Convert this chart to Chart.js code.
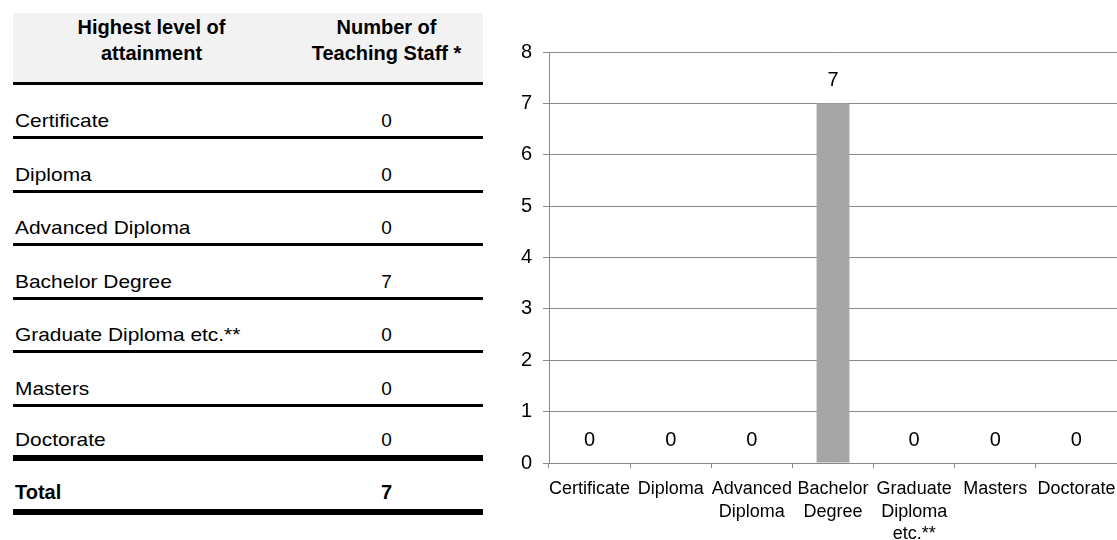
<!DOCTYPE html>
<html>
<head>
<meta charset="utf-8">
<script src="https://cdn.jsdelivr.net/npm/chart.js@4.4.0/dist/chart.umd.min.js"></script>
<style>
  body { margin: 0; width: 1117px; height: 540px; background: #fff; position: relative; overflow: hidden;
         font-family: 'Liberation Sans', Arial, sans-serif; color: #000; }
  .abs { position: absolute; }
  .hdr-bg { left: 13px; top: 13px; width: 470px; height: 69px; background: #f2f2f2; }
  .hdr { top: 14px; font-weight: bold; font-size: 20px; line-height: 26px; text-align: center; }
  .rule { left: 13px; width: 470px; background: #000; }
  .cell { font-size: 19px; line-height: 24px; height: 24px; white-space: nowrap; }
  .stretch { transform: scaleX(1.1); transform-origin: left center; }
  #chart-box { left: 500px; top: 0; width: 617px; height: 540px; }
</style>
</head>
<body>
<div class="abs hdr-bg"></div>
<div class="abs hdr" style="left:13px;width:277px;">Highest level of<br>attainment</div>
<div class="abs hdr" style="left:290px;width:193px;">Number of<br>Teaching Staff *</div>
<div id="chart-box" class="abs"><canvas id="staff-chart" width="617" height="540"></canvas></div>

<script>
// table labels and chart labels (wrapped like the original axis)
const levels = ['Certificate', 'Diploma', 'Advanced Diploma', 'Bachelor Degree',
                'Graduate Diploma etc.**', 'Masters', 'Doctorate'];
const axisLabels = [['Certificate'], ['Diploma'], ['Advanced', 'Diploma'], ['Bachelor', 'Degree'],
                    ['Graduate', 'Diploma', 'etc.**'], ['Masters'], ['Doctorate']];
const staffCounts = [0, 0, 0, 7, 0, 0, 0];
const yTicks = [0, 1, 2, 3, 4, 5, 6, 7, 8];

function addRule(top, h) {
  const d = document.createElement('div');
  d.className = 'abs rule';
  d.style.top = top + 'px';
  d.style.height = h + 'px';
  document.body.appendChild(d);
}

function addRow(label, value, lineTop, bold) {
  const center = lineTop - 15;
  const left = document.createElement('div');
  left.className = 'abs cell stretch';
  left.style.left = '15px';
  left.style.top = (center - 12) + 'px';
  left.textContent = label;
  const right = document.createElement('div');
  right.className = 'abs cell';
  right.style.left = '290px';
  right.style.width = '193px';
  right.style.textAlign = 'center';
  right.style.top = (center - 12) + 'px';
  right.textContent = value;
  if (bold) {
    left.style.fontWeight = 'bold'; right.style.fontWeight = 'bold';
    left.style.fontSize = '20px'; right.style.fontSize = '20px';
    left.classList.remove('stretch');
  }
  document.body.appendChild(left);
  document.body.appendChild(right);
}

function buildTable() {
  addRule(82, 3);
  levels.forEach((lvl, i) => {
    const lineTop = Math.round(136 + 53.5 * i);
    const last = i === levels.length - 1;
    addRow(lvl, staffCounts[i], last ? 455 : lineTop, false);
    addRule(last ? 455 : lineTop, last ? 6 : 3);
  });
  const total = staffCounts.reduce((a, b) => a + b, 0);
  addRow('Total', total, 507, true);
  addRule(509, 6);
}

// draws the value above every bar (no datalabels plugin available offline)
const valueLabels = {
  id: 'valueLabels',
  afterDatasetsDraw(chart) {
    const ctx = chart.ctx;
    const meta = chart.getDatasetMeta(0);
    ctx.save();
    ctx.font = '20px "Liberation Sans", Arial, sans-serif';
    ctx.fillStyle = '#000';
    ctx.textAlign = 'center';
    ctx.textBaseline = 'middle';
    meta.data.forEach((bar, i) => {
      ctx.fillText(String(staffCounts[i]), bar.x, bar.y - 23);
    });
    ctx.restore();
  }
};

function initChart() {
  const gridColor = '#898989';
  new Chart(document.getElementById('staff-chart'), {
    type: 'bar',
    data: {
      labels: axisLabels,
      datasets: [{
        data: staffCounts,
        backgroundColor: '#a6a6a6',
        borderWidth: 0,
        categoryPercentage: 1,
        barPercentage: 0.405
      }]
    },
    options: {
      responsive: false,
      animation: false,
      layout: { padding: { top: 52, right: 0, bottom: 0, left: 0 } },
      plugins: { legend: { display: false }, tooltip: { enabled: false } },
      scales: {
        x: {
          grid: { drawOnChartArea: false, drawTicks: true, tickLength: 5, color: gridColor },
          border: { color: gridColor },
          ticks: {
            color: '#000', maxRotation: 0, autoSkip: false, padding: 10,
            font: { family: '"Liberation Sans", Arial, sans-serif', size: 18, lineHeight: 1.25 }
          },
          afterFit: (scale) => {
            scale.height = 77;
            scale.paddingLeft = 0;
            scale.paddingRight = 0;
          }
        },
        y: {
          min: 0, max: 8,
          afterBuildTicks: (scale) => { scale.ticks = yTicks.map(v => ({ value: v })); },
          grid: { color: gridColor, tickLength: 6 },
          border: { color: gridColor },
          ticks: {
            color: '#000', padding: 11,
            font: { family: '"Liberation Sans", Arial, sans-serif', size: 20 }
          },
          afterFit: (scale) => { scale.width = 49; }
        }
      }
    },
    plugins: [valueLabels]
  });
}

buildTable();
initChart();
</script>
</body>
</html>
